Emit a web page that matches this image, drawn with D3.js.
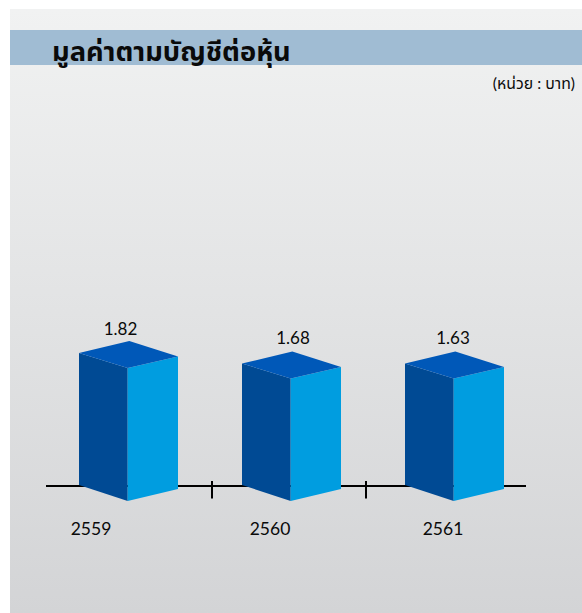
<!DOCTYPE html>
<html><head><meta charset="utf-8">
<script src="https://cdn.jsdelivr.net/npm/d3@7/dist/d3.min.js"></script>
<style>html,body{margin:0;padding:0;background:#fff}svg{display:block}text{font-family:Lato,"Noto Sans","Noto Sans Thai",sans-serif;fill:#0a0a0a}</style>
</head><body><svg id="c" width="582" height="613"></svg>
<script>
const categories = ["2559","2560","2561"];
const values = [1.82,1.68,1.63];
const valueLabels = ["1.82","1.68","1.63"];
const titleText = "มูลค่าตามบัญชีต่อหุ้น";
const unitText = "(หน่วย : บาท)";
const W=582,H=613;
const svg=d3.select("#c");
const defs=svg.append("defs");
const g=defs.append("linearGradient").attr("id","bg").attr("x1",0).attr("y1",0).attr("x2",0).attr("y2",1);
g.append("stop").attr("offset",0).attr("stop-color","#f1f2f2");
g.append("stop").attr("offset",1).attr("stop-color","#d3d4d6");
svg.append("rect").attr("x",10).attr("y",9).attr("width",W-10).attr("height",H-9).attr("fill","url(#bg)");
svg.append("rect").attr("x",10).attr("y",30).attr("width",W-10).attr("height",35).attr("fill","#a0bcd3");
svg.append("text").text(titleText).attr("x",52).attr("y",61).attr("font-size",27.3).attr("font-weight",700);
svg.append("text").text(unitText).attr("x",575).attr("y",89).attr("text-anchor","end").attr("font-size",15.8);

const x=d3.scalePoint().domain(categories).range([79,405]);
const y=d3.scaleLinear().domain([1.63,1.68,1.82]).range([378.5,378.5,368]);
const base=501, frontW=48.7, sideW=50.3;

// axis
svg.append("line").attr("x1",46).attr("x2",526).attr("y1",486).attr("y2",486).attr("stroke","#000").attr("stroke-width",2);
[212,366].forEach(t=>svg.append("line").attr("x1",t).attr("x2",t).attr("y1",481).attr("y2",498.5).attr("stroke","#000").attr("stroke-width",2));

const bars=svg.selectAll("g.bar").data(categories.map((c,i)=>({c,v:values[i]}))).join("g").attr("class","bar");
bars.each(function(d){
  const s=d3.select(this),l=x(d.c),f=l+frontW,r=f+sideW,t=y(d.v);
  const P=a=>a.map(p=>p.join(",")).join(" ");
  s.append("polygon").attr("points",P([[l,t-15],[f,t],[f,base],[l,base-16]])).attr("fill","#004a94");
  s.append("polygon").attr("points",P([[f,t],[r,t-11.5],[r,base-12],[f,base]])).attr("fill","#009de0");
  s.append("polygon").attr("points",P([[l,t-15],[l+sideW,t-27],[r,t-11.5],[f,t]])).attr("fill","#0058b8");
});
const labelX=[120.5,293,453], catX=[91,270,443], labelY=[335,344,344];
svg.selectAll("text.val").data(valueLabels).join("text").attr("class","val").text(d=>d)
  .attr("x",(d,i)=>labelX[i]).attr("y",(d,i)=>labelY[i]).attr("text-anchor","middle").attr("font-size",17);
svg.selectAll("text.cat").data(categories).join("text").attr("class","cat").text(d=>d)
  .attr("x",(d,i)=>catX[i]).attr("y",534.5).attr("text-anchor","middle").attr("font-size",17.5);
</script></body></html>
